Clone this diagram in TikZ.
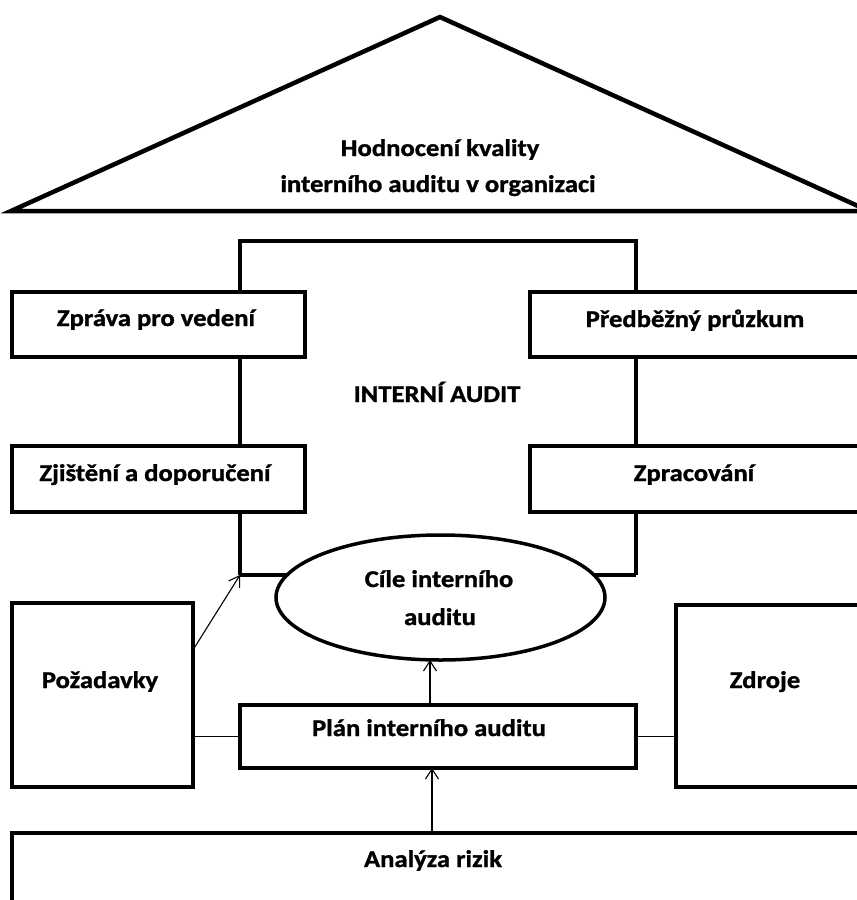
\documentclass[tikz,border=0pt]{standalone}
\usepackage{fontspec}
\setmainfont{Carlito}[FakeStretch=1.11,BoldFeatures={FakeBold=1.2}]
\usetikzlibrary{shapes.geometric,arrows.meta,calc}
\begin{document}
\begin{tikzpicture}[x=1pt,y=-1pt,
  box/.style={draw, line width=4pt, fill=white, rectangle, inner sep=0pt, outer sep=0pt},
  txt/.style={anchor=base, inner sep=0pt, font=\fontsize{24}{29}\selectfont\bfseries},
  thinline/.style={line width=1.1pt},
  arr/.style={line width=1.1pt, -{Straight Barb[length=10pt,width=13pt,line width=1.1pt]}},
  heavy/.style={line width=4pt, line join=miter}]
\useasboundingbox (0,0) rectangle (857,900);
\clip (0,0) rectangle (857,900);
% roof
\draw[line width=4.5pt, line join=miter] (11,211) -- (440,17) -- (869,211) -- cycle;
\node[txt] (roof1) at (440,156) {Hodnocení kvality};
\node[txt] (roof2) at (438,192) {interního auditu v organizaci};
% frame
\coordinate (fl) at (240,575);
\coordinate (fr) at (636,575);
\draw[heavy] (fl) -- (240,241) -- (636,241) -- (fr);
\draw[heavy] (fl) -- (fr);
\node[txt] (ia) at (437,402) {INTERNÍ AUDIT};
% side boxes
\node[box, minimum width=293pt, minimum height=65pt] (zpr) at (158.5,324.5) {};
\node[box, minimum width=334pt, minimum height=65pt] (pred) at (697,324.5) {};
\node[box, minimum width=293pt, minimum height=66pt] (zji) at (158.5,479) {};
\node[box, minimum width=334pt, minimum height=66pt] (zpc) at (697,479) {};
\node[txt] (tzpr) at (156,326) {Zpráva pro vedení};
\node[txt] (tpred) at (695,327) {Předběžný průzkum};
\node[txt] (tzji) at (155,481) {Zjištění a doporučení};
\node[txt] (tzpc) at (694,481) {Zpracování};
% ellipse
\node[ellipse, draw, line width=3.5pt, fill=white, inner sep=0pt, outer sep=0pt,
  minimum width=329pt, minimum height=125pt] (ell) at (440.5,597.5) {};
\node[txt] (tell1) at (439,587) {Cíle interního};
\node[txt] (tell2) at (440,625) {auditu};
% lower boxes
\node[box, minimum width=181pt, minimum height=184pt] (poz) at (102.5,695) {};
\node[box, minimum width=183pt, minimum height=182pt] (zdr) at (767.5,696) {};
\node[box, minimum width=396pt, minimum height=63pt] (plan) at (438,736.5) {};
\node[box, minimum width=852pt, minimum height=100pt] (anal) at (438,883) {};
\node[txt] (tpoz) at (100,688) {Požadavky};
\node[txt] (tzdr) at (765,688) {Zdroje};
\node[txt] (tplan) at (429,736) {Plán interního auditu};
\node[txt] (tanal) at (433,867) {Analýza rizik};
% connectors
\coordinate (ax) at (430,0);
\coordinate (bx) at (432,0);
\draw[thinline] (plan.west) -- (plan.west -| poz.east);
\draw[thinline] (plan.east) -- (plan.east -| zdr.west);
\draw[arr] ($(poz.north east)!0.51!(poz.east)$) -- (fl);
\draw[arr] (plan.north -| ax) -- (ell.south -| ax);
\draw[arr] (anal.north -| bx) -- (plan.south -| bx);
\end{tikzpicture}
\end{document}
